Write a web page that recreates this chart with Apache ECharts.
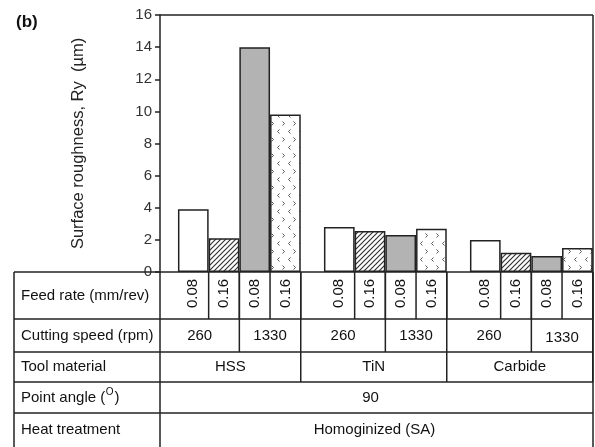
<!DOCTYPE html>
<html>
<head>
<meta charset="utf-8">
<script src="https://cdn.jsdelivr.net/npm/echarts@6/dist/echarts.min.js"></script>
<style>
  html, body { margin: 0; padding: 0; background: #fff; }
  #chart { width: 595px; height: 447px; }
</style>
</head>
<body>
<div id="chart"></div>
<script>
// ---- data ----
const toolMaterials = ['HSS', 'TiN', 'Carbide'];
const cuttingSpeeds = ['260', '1330'];
const feedRates = ['0.08', '0.16'];
// Surface roughness Ry (µm) per tool material, one array per speed / feed combination
const ry260f008 = [3.9, 2.8, 2.0];
const ry260f016 = [2.1, 2.55, 1.2];
const ry1330f008 = [14.0, 2.3, 1.0];
const ry1330f016 = [9.8, 2.7, 1.5];
const yMin = 0, yMax = 16, yStep = 2;
const rowLabels = ['Feed rate (mm/rev)', 'Cutting speed (rpm)', 'Tool material', 'Point angle (', 'Heat treatment'];
const pointAngle = '90';
const heatTreatment = 'Homoginized (SA)';
const yName = 'Surface roughness, Ry  (\u00b5m)';

// ---- layout ----
const FONT = '"Liberation Sans", Arial, sans-serif';
const INK = '#222';
const axisX = 160, plotTop = 15, baseY = 272, rightX = 593, tableLeft = 14;
const rowEdges = [272, 319, 352, 382, 413, 447];
const barW = 30.7;

// ---- fill patterns ----
function hatchPattern() {
  const s = 5, c = document.createElement('canvas');
  c.width = s; c.height = s;
  const g = c.getContext('2d');
  g.fillStyle = '#fff'; g.fillRect(0, 0, s, s);
  g.strokeStyle = '#333'; g.lineWidth = 1.2;
  g.beginPath();
  g.moveTo(-1, s + 1); g.lineTo(s + 1, -1);
  g.moveTo(-1, 1); g.lineTo(1, -1);
  g.moveTo(s - 1, s + 1); g.lineTo(s + 1, s - 1);
  g.stroke();
  return c;
}
function chevronPattern() {
  const w = 11, h = 16, c = document.createElement('canvas');
  c.width = w; c.height = h;
  const g = c.getContext('2d');
  g.fillStyle = '#fff'; g.fillRect(0, 0, w, h);
  g.strokeStyle = '#555'; g.lineWidth = 1;
  g.beginPath();
  // '<'
  g.moveTo(4.5, 1.5); g.lineTo(2.5, 3.5); g.lineTo(4.5, 5.5);
  // '>'
  g.moveTo(7.5, 9.5); g.lineTo(9.5, 11.5); g.lineTo(7.5, 13.5);
  g.stroke();
  return c;
}

const chart = echarts.init(document.getElementById('chart'), null, { renderer: 'canvas' });

const barStyle = (color) => ({ color, borderColor: INK, borderWidth: 1.5 });
const seriesData = [
  { data: ry260f008, color: '#ffffff' },
  { data: ry260f016, color: { image: hatchPattern(), repeat: 'repeat' } },
  { data: ry1330f008, color: '#b3b3b3' },
  { data: ry1330f016, color: { image: chevronPattern(), repeat: 'repeat' } }
];

chart.setOption({
  animation: false,
  backgroundColor: '#fff',
  title: {
    text: '(b)', left: 11, top: 9,
    textStyle: { fontFamily: FONT, fontSize: 17, fontWeight: 'bold', color: '#111' }
  },
  grid: {
    left: 166.35, top: plotTop, width: 438, height: baseY - plotTop,
    outerBoundsMode: 'none', containLabel: false
  },
  xAxis: {
    type: 'category', data: toolMaterials, show: false
  },
  yAxis: {
    type: 'value', min: yMin, max: yMax, interval: yStep,
    offset: 6.35,
    name: yName, nameLocation: 'middle', nameGap: 73,
    nameTextStyle: { fontFamily: FONT, fontSize: 16.5, color: INK },
    axisLine: { show: true, lineStyle: { color: INK, width: 1.5 } },
    axisTick: { show: true, length: 5, lineStyle: { color: INK, width: 1.5 } },
    axisLabel: { margin: 8, fontFamily: FONT, fontSize: 15, color: '#333' },
    splitLine: { show: false }
  },
  series: seriesData.map((s) => ({
    type: 'bar', data: s.data, barWidth: barW, barGap: '0%',
    itemStyle: barStyle(s.color)
  }))
});

// ---- frame and table below the plot, positioned from the category axis ----
const g = [];
const line = (x1, y1, x2, y2, w) => g.push({
  type: 'line', z: 100, silent: true,
  shape: { x1, y1, x2, y2 },
  style: { stroke: INK, lineWidth: w || 1.5 }
});
const text = (str, x, y, opts) => g.push(Object.assign({
  type: 'text', z: 101, silent: true, x, y,
  style: Object.assign({
    text: str, font: '15px ' + FONT, fill: '#111',
    align: 'center', verticalAlign: 'middle'
  }, (opts && opts.style) || {})
}, opts && opts.rotation ? { rotation: opts.rotation } : {}));

// frame
line(axisX, plotTop, rightX, plotTop);
line(rightX, plotTop, rightX, rowEdges[5]);
// table horizontal rules
for (let r = 0; r < 5; r++) line(tableLeft, rowEdges[r], rightX, rowEdges[r]);
line(tableLeft, rowEdges[0], tableLeft, rowEdges[5]);
line(axisX, rowEdges[0], axisX, rowEdges[5]);

const rowMid = (r) => (rowEdges[r] + rowEdges[r + 1]) / 2;
rowLabels.forEach((lab, r) => {
  text(lab, 21, rowMid(r), { style: { align: 'left' } });
});
// superscript degree mark in the point-angle label
(function () {
  const ctx = document.createElement('canvas').getContext('2d');
  ctx.font = '15px ' + FONT;
  const w1 = ctx.measureText(rowLabels[3]).width;
  text('O', 21 + w1 + 0.5, rowMid(3) - 5, { style: { align: 'left', font: '10px ' + FONT } });
  ctx.font = '10px ' + FONT;
  const w2 = ctx.measureText('O').width;
  text(')', 21 + w1 + w2 + 1.5, rowMid(3), { style: { align: 'left' } });
})();

let prevEnd = axisX;
toolMaterials.forEach((mat, i) => {
  const c = chart.convertToPixel({ xAxisIndex: 0 }, mat);
  const groupStart = c - 2 * barW;
  const groupEnd = Math.min(c + 2 * barW, rightX);
  // feed-rate cells (one per bar)
  for (let k = 0; k < 4; k++) {
    const cx = groupStart + (k + 0.5) * barW;
    const right = Math.min(groupStart + (k + 1) * barW, rightX);
    if (right < rightX) line(right, rowEdges[0], right, rowEdges[1]);
    text(feedRates[k % 2], cx, rowMid(0) - 2, { rotation: Math.PI / 2 });
  }
  // cutting-speed cells
  line(c, rowEdges[0], c, rowEdges[2]);
  text(cuttingSpeeds[0], (prevEnd + c) / 2, rowMid(1));
  text(cuttingSpeeds[1], (c + groupEnd) / 2, rowMid(1) + (i === 2 ? 2 : 0));
  // tool-material cell
  if (groupEnd < rightX) line(groupEnd, rowEdges[0], groupEnd, rowEdges[3]);
  text(mat, (prevEnd + groupEnd) / 2, rowMid(2));
  prevEnd = groupEnd;
});
text(pointAngle, (axisX + rightX) / 2 - 6, rowMid(3));
text(heatTreatment, (axisX + rightX) / 2 - 2, rowMid(4));

chart.setOption({ graphic: { elements: g } });
</script>
</body>
</html>
